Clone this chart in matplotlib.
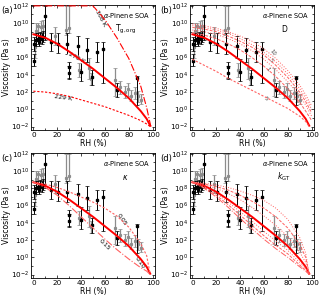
import matplotlib
matplotlib.use("Agg")
import matplotlib.pyplot as plt
import numpy as np

# ---------------- data (log10 viscosity, Pa s) ----------------
black_rh  = [0.5, 0.8, 2.0, 3.5, 4.7, 5.5, 7.0, 7.7, 10.0, 15.0, 21.0, 28.0, 30.0, 30.2, 37.5, 40.0, 44.6, 49.0, 53.0, 58.0, 70.0, 87.0]
black_val = [7.6, 5.6, 8.0, 8.2, 7.9, 8.3, 8.2, 8.4, 10.85, 7.8, 7.6, 7.6, 4.9, 4.2, 7.3, 4.3, 6.9, 3.8, 6.7, 7.0, 2.2, 3.6]
black_lo  = [6.8, 5.0, 7.4, 7.6, 7.3, 7.7, 7.6, 7.8, 8.0, 6.8, 6.5, 6.4, 3.6, 3.5, 6.0, 3.3, 5.5, 2.8, 5.5, 3.0, 1.4, 0.5]
black_hi  = [8.4, 6.4, 8.8, 8.9, 8.6, 9.0, 8.9, 9.1, 12.0, 8.9, 8.8, 8.8, 5.5, 5.0, 8.5, 5.8, 8.3, 4.6, 7.8, 7.8, 3.0, 3.9]

gray_rh  = [1.4, 2.0, 4.0, 6.3, 7.7, 18.0, 27.4, 30.0, 38.0, 46.5, 48.0, 68.5, 72.6, 76.7, 79.5, 82.0, 85.0, 87.7, 90.4]
gray_val = [7.2, 9.1, 9.7, 9.5, 9.7, 8.5, 9.2, 9.4, 4.6, 4.8, 3.5, 3.4, 2.6, 2.0, 2.4, 1.6, 1.9, 1.5, 1.1]
gray_lo  = [6.0, 8.0, 8.2, 8.6, 9.0, 7.5, 8.6, 8.8, 3.8, 3.5, 2.8, 1.5, 1.8, 1.3, 1.6, 1.0, 1.2, 0.9, 0.6]
gray_hi  = [8.0, 10.0, 10.0, 10.2, 10.4, 9.5, 12.0, 12.0, 5.4, 6.0, 4.2, 4.8, 3.3, 2.7, 3.1, 2.2, 2.6, 2.1, 1.8]

rh_grid  = [0, 10, 20, 30, 40, 50, 60, 70, 80, 90, 95, 98]
rh_grid2 = [0, 10, 20, 30, 40, 50, 60, 70, 80, 90, 95, 100]
base     = [8.7, 8.3, 7.6, 6.7, 5.7, 4.7, 3.6, 2.5, 1.3, -0.2, -1.1, -1.9]

# (a) Tg,org
rh_308  = [0, 50, 60, 70, 80, 90, 95, 98.5]
a_308   = [12.0, 12.0, 10.4, 8.3, 5.9, 2.7, 0.2, -2.0]
a_229   = [2.1, 2.0, 1.8, 1.5, 1.1, 0.7, 0.3, -0.2, -0.7, -1.3, -1.7, -2.0]

# (b) D
b_lines = [
    [9.9, 9.7, 9.4, 9.0, 8.5, 7.9, 7.0, 5.9, 4.5, 2.8, 1.7, 0.4],
    [9.7, 9.5, 9.2, 8.8, 8.2, 7.5, 6.6, 5.5, 4.1, 2.4, 1.3, 0.0],
    [9.5, 9.3, 9.0, 8.5, 7.9, 7.2, 6.3, 5.1, 3.7, 2.0, 0.9, -0.4],
    [9.2, 9.0, 8.7, 8.2, 7.6, 6.8, 5.8, 4.6, 3.2, 1.6, 0.5, -0.8],
    [8.9, 8.6, 8.2, 7.6, 6.9, 6.0, 5.0, 3.8, 2.4, 0.8, -0.2, -1.3],
]
b_low = [5.8, 5.1, 4.4, 3.6, 2.9, 2.2, 1.5, 0.8, 0.1, -0.8, -1.4, -2.0]

# (c) kappa
c_005 = [8.7, 8.5, 8.1, 7.6, 7.0, 6.4, 5.7, 4.8, 3.5, 1.6, 0.2, -2.0]
c_015 = [8.7, 8.1, 7.2, 6.0, 4.7, 3.4, 2.1, 0.9, -0.2, -1.2, -1.6, -2.0]

# (d) k_GT
d_lines = [
    [8.7, 8.6, 8.4, 8.1, 7.7, 7.2, 6.6, 5.7, 4.4, 2.3, 0.5, -2.0],
    [8.7, 8.5, 8.2, 7.8, 7.2, 6.5, 5.7, 4.7, 3.4, 1.5, 0.0, -2.0],
    [8.7, 8.4, 8.0, 7.4, 6.7, 5.8, 4.8, 3.7, 2.4, 0.6, -0.6, -2.0],
    [8.7, 8.2, 7.4, 6.4, 5.3, 4.2, 3.0, 1.9, 0.8, -0.6, -1.3, -2.0],
    [8.7, 8.1, 7.2, 6.1, 4.9, 3.7, 2.5, 1.4, 0.4, -0.9, -1.5, -2.0],
    [8.7, 8.0, 7.0, 5.8, 4.5, 3.3, 2.1, 1.0, 0.0, -1.1, -1.6, -2.0],
]

panel_tags  = ["(a)", "(b)", "(c)", "(d)"]
panel_names = [r"T$_{\rm g,org}$", "D", r"$\kappa$", r"$k_{\rm GT}$"]

# ---------------- figure ----------------
fig = plt.figure(figsize=(3.2, 2.98), dpi=100)
W, H = 320, 298
boxes = [(31, 5, 155, 130), (190, 5, 314, 130), (31, 153, 155, 278), (190, 153, 314, 278)]
RED = "#ff0000"
LRED = "#ff6060"
fs = 5.2

def P(v):
    return 10.0 ** np.asarray(v, dtype=float)

for i, (x0, y0, x1, y1) in enumerate(boxes):
    ax = fig.add_axes([x0 / W, 1 - y1 / H, (x1 - x0) / W, (y1 - y0) / H])
    ax.set_yscale("log")
    ax.set_xlim(-2, 102)
    ax.set_ylim(10 ** -2.4, 10 ** 12.1)

    # data
    gv = P(gray_val)
    ax.errorbar(gray_rh, gv, yerr=[gv - P(gray_lo), P(gray_hi) - gv], fmt="s",
                color="#8c8c8c", ms=1.3, elinewidth=0.9, capsize=1.2, capthick=0.5, zorder=2)
    bv = P(black_val)
    ax.errorbar(black_rh, bv, yerr=[bv - P(black_lo), P(black_hi) - bv], fmt="s",
                color="black", ms=1.5, elinewidth=0.7, capsize=1.2, capthick=0.5, zorder=3)

    # thick base curve
    ax.plot(rh_grid, P(base), color=RED, lw=1.4, zorder=4)

    if i == 0:
        ax.plot(rh_308, P(a_308), color=RED, lw=0.8, ls="-.", zorder=4)
        ax.plot(rh_grid, P(a_229), color=RED, lw=0.8, ls=(0, (2, 1.5)), zorder=4)
        ax.text(56, 10 ** 10.6, "308 K", fontsize=4.5, rotation=-62, ha="center", va="center",
                bbox=dict(fc="white", ec="none", pad=0.1))
        ax.text(36, 10 ** 6.0, "278 K", fontsize=4.5, rotation=-28, ha="center", va="center",
                bbox=dict(fc="white", ec="none", pad=0.2))
        ax.text(25, 10 ** 1.3, "229 K", fontsize=4.5, rotation=-8, ha="center", va="center",
                bbox=dict(fc="white", ec="none", pad=0.2))
    elif i == 1:
        styles = [":", ":", (0, (3, 1.5)), ":", (0, (3, 1.5))]
        for ln, st in zip(b_lines, styles):
            ax.plot(rh_grid2, P(ln), color=LRED, lw=0.7, ls=st, zorder=4)
        ax.plot(rh_grid, P(b_low), color=LRED, lw=0.8, ls=(0, (2, 1.5)), zorder=4)
        for lab, rx, ry in [("10", 67, 6.6), ("5", 66, 5.7), ("1", 63, 4.6)]:
            ax.text(rx, 10 ** ry, lab, fontsize=3.8, rotation=-50, ha="center", va="center", color="#444444")
        ax.text(62, 10 ** 1.2, "5", fontsize=3.8, rotation=-35, ha="center", va="center", color="#444444")
    elif i == 2:
        ax.plot(rh_grid, P(c_005), color=LRED, lw=0.8, ls=(0, (2, 1.5)), zorder=4)
        ax.plot(rh_grid, P(c_015), color=LRED, lw=0.8, ls="-.", zorder=4)
        ax.text(74, 10 ** 4.4, "0.05", fontsize=4.5, rotation=-55, ha="center", va="center",
                bbox=dict(fc="white", ec="none", pad=0.1))
        ax.text(60, 10 ** 1.4, "0.15", fontsize=4.5, rotation=-45, ha="center", va="center",
                bbox=dict(fc="white", ec="none", pad=0.1))
        ax.text(89, 10 ** -0.6, "0.10", fontsize=4.5, rotation=-55, ha="center", va="center",
                bbox=dict(fc="white", ec="none", pad=0.1))
    else:
        styles = [":", (0, (3, 1.5)), ":", ":", (0, (3, 1.5)), "-."]
        for ln, st in zip(d_lines, styles):
            ax.plot(rh_grid, P(ln), color=LRED, lw=0.7, ls=st, zorder=4)

    ax.text(78, 10 ** 10.85, r"$\alpha$-Pinene SOA", fontsize=4.8, ha="center", va="center")
    ax.text(77, 10 ** 9.3, panel_names[i], fontsize=5.5, ha="center", va="center")

    # axes styling
    ax.set_xticks([0, 20, 40, 60, 80, 100])
    ax.set_yticks([10.0 ** k for k in range(-2, 13, 2)])
    ax.yaxis.set_major_formatter(matplotlib.ticker.FuncFormatter(
        lambda v, p: r"$10^{%d}$" % int(round(np.log10(v)))))
    ax.yaxis.set_minor_locator(matplotlib.ticker.FixedLocator([10.0 ** k for k in range(-1, 12, 2)]))
    ax.yaxis.set_minor_formatter(matplotlib.ticker.NullFormatter())
    ax.xaxis.set_minor_locator(matplotlib.ticker.MultipleLocator(10))
    ax.tick_params(which="both", direction="in", top=True, right=True, labelsize=fs,
                   length=2.5, width=0.5, pad=1.5)
    ax.tick_params(which="minor", length=1.5)
    for s in ax.spines.values():
        s.set_linewidth(0.6)
    ax.set_xlabel("RH (%)", fontsize=fs + 0.3, labelpad=1)
    ax.set_ylabel("Viscosity (Pa s)", fontsize=fs + 0.3, labelpad=0)
    fig.text((x0 - 30) / W, 1 - (y0 + 6) / H, panel_tags[i], fontsize=6, ha="left", va="center")

fig.savefig("out.png", dpi=100)
